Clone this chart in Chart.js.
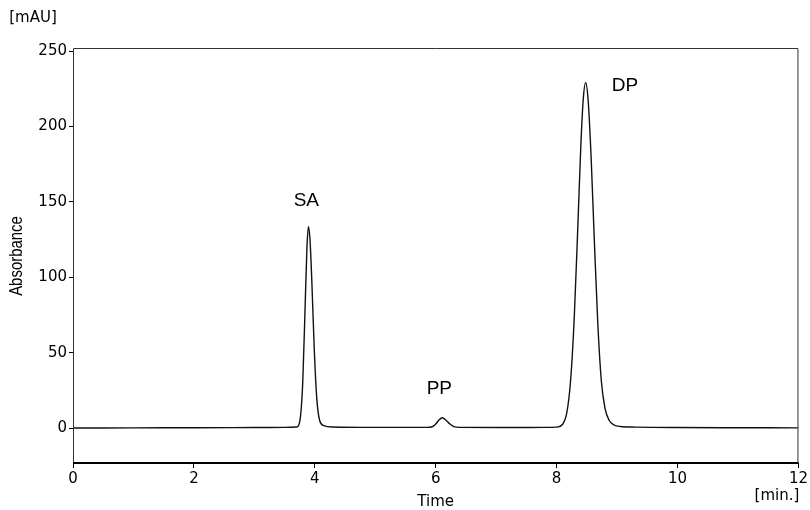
<!DOCTYPE html>
<html>
<head>
<meta charset="utf-8">
<script src="https://cdn.jsdelivr.net/npm/chart.js@4/dist/chart.umd.min.js"></script>
<style>
html,body{margin:0;padding:0;background:#fff;}
#wrap{width:810px;height:510px;position:relative;}
</style>
</head>
<body>
<div id="wrap"><canvas id="c" width="810" height="510"></canvas></div>
<script>
// Chromatogram samples: time [min.] and absorbance [mAU]
const times = [0, 1, 2, 3, 3.5, 3.7, 3.75, 3.8, 3.84, 3.87, 3.895, 3.92, 3.95, 3.99, 4.03, 4.08, 4.15, 4.3, 5, 5.85, 5.95, 6.0, 6.05, 6.11, 6.17, 6.23, 6.3, 6.4, 7, 7.8, 8.0, 8.1, 8.17, 8.23, 8.29, 8.35, 8.4, 8.44, 8.48, 8.52, 8.57, 8.62, 8.68, 8.74, 8.8, 8.87, 8.95, 9.05, 9.3, 10, 11, 12];
const absorbance = [0, 0.1, 0.2, 0.3, 0.4, 0.7, 4.1, 30, 81, 120, 133.5, 125, 98, 53, 21, 5, 1.6, 0.7, 0.4, 0.4, 1.0, 2.6, 5.1, 6.8, 5.2, 2.8, 0.9, 0.4, 0.3, 0.4, 0.6, 2.5, 10.5, 31, 72, 133, 187, 218, 229, 218, 180, 128, 70, 31, 13, 5, 2, 1.0, 0.6, 0.3, 0.2, 0.1];

const xTicks = [0, 2, 4, 6, 8, 10, 12];
const yTicks = [0, 50, 100, 150, 200, 250];

// Peak labels
const peakNames = ["SA", "PP", "DP"];
const peakLabelTimes = [3.86, 6.06, 9.13];
const peakLabelValues = [150.5, 25.9, 226.8];

const points = times.map((t, i) => ({x: t, y: absorbance[i]}));

const textPlugin = {
  id: 'texts',
  afterDraw(chart) {
    const ctx = chart.ctx;
    const a = chart.chartArea;
    const xs = chart.scales.x, ys = chart.scales.y;
    ctx.save();
    // frame
    ctx.strokeStyle = '#333';
    ctx.lineWidth = 1;
    ctx.beginPath();
    ctx.moveTo(a.left + 0.5, a.bottom);
    ctx.lineTo(a.left + 0.5, a.top + 0.5);
    ctx.lineTo(a.right - 0.5, a.top + 0.5);
    ctx.lineTo(a.right - 0.5, a.bottom);
    ctx.stroke();
    ctx.strokeStyle = '#000';
    ctx.lineWidth = 2;
    ctx.beginPath();
    ctx.moveTo(a.left, a.bottom);
    ctx.lineTo(a.right, a.bottom);
    ctx.stroke();

    ctx.fillStyle = '#000';
    ctx.textAlign = 'center';
    ctx.textBaseline = 'middle';
    ctx.font = '15px "DejaVu Sans"';
    ctx.fillText('[mAU]', 33, 18);
    ctx.fillText('[min.]', 777, 496);
    ctx.fillText('Time', (a.left + a.right) / 2, 502);
    ctx.save();
    ctx.translate(17, 256);
    ctx.rotate(-Math.PI / 2);
    ctx.scale(0.83, 1);
    ctx.font = '18px "Liberation Sans"';
    ctx.fillText('Absorbance', 0, 0);
    ctx.restore();
    ctx.font = '19px "Liberation Sans"';
    peakNames.forEach((n, i) => {
      ctx.fillText(n, xs.getPixelForValue(peakLabelTimes[i]), ys.getPixelForValue(peakLabelValues[i]));
    });
    ctx.restore();
  }
};

new Chart(document.getElementById('c'), {
  type: 'line',
  data: {
    datasets: [{
      data: points,
      borderColor: '#111',
      borderWidth: 1.4,
      pointRadius: 0,
      fill: false,
      cubicInterpolationMode: 'monotone'
    }]
  },
  options: {
    responsive: false,
    animation: false,
    layout: {padding: {top: 48, right: 10, left: 0, bottom: 0}},
    plugins: {legend: {display: false}, tooltip: {enabled: false}},
    scales: {
      x: {
        type: 'linear', min: 0, max: 12,
        afterBuildTicks: s => { s.ticks = xTicks.map(v => ({value: v})); },
        afterFit: s => { s.height = 47; },
        grid: {display: true, drawOnChartArea: false, drawTicks: true, tickLength: 5, color: '#000'},
        border: {display: false},
        ticks: {color: '#000', font: {family: 'DejaVu Sans', size: 15}, padding: 2, maxRotation: 0}
      },
      y: {
        type: 'linear', min: -23.2, max: 252,
        afterBuildTicks: s => { s.ticks = yTicks.map(v => ({value: v})); },
        afterFit: s => { s.width = 73; },
        grid: {display: true, drawOnChartArea: false, drawTicks: true, tickLength: 4, color: '#000'},
        border: {display: false},
        ticks: {color: '#000', font: {family: 'DejaVu Sans', size: 15}, padding: 2}
      }
    }
  },
  plugins: [textPlugin]
});
</script>
</body>
</html>
